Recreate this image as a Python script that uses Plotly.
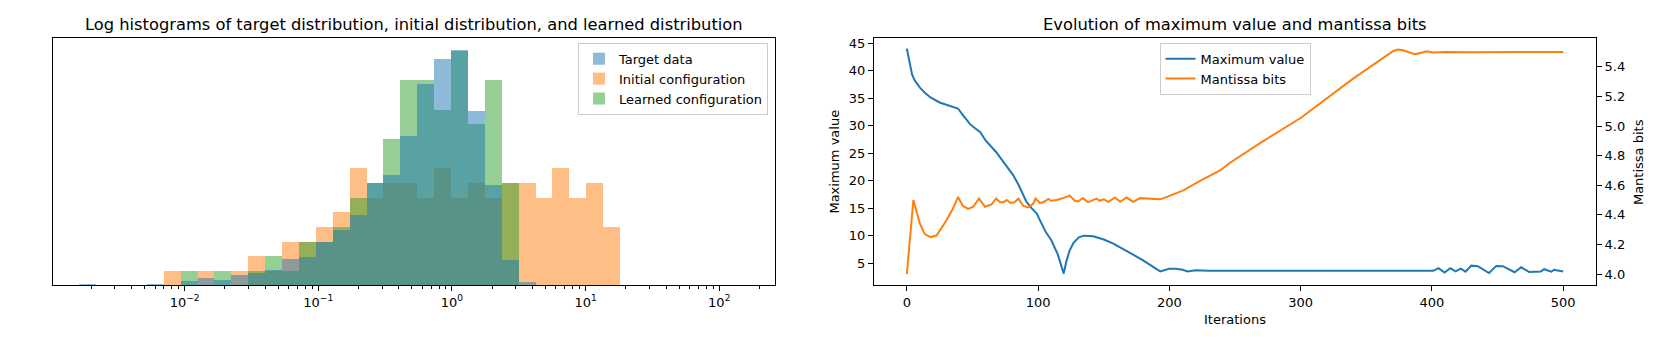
import numpy as np
import plotly.graph_objects as go

# ---------------- Data: left histogram (log10 bins) ----------------
bin_start_log10 = -2.789
bin_stop_log10 = 1.258
n_bins = 32
target_data = [0.1, 0, 0, 0, 0.1, 0, 0.32, 0.52, 0.41, 0.75, 0.88, 1.06, 1.81, 1.97, 3.0, 3.8,
               4.79, 6.98, 7.57, 10.17, 13.74, 15.48, 16.05, 11.91, 6.85, 1.74, 0.22, 0, 0, 0, 0, 0]
initial_config = [0, 0, 0, 0, 0, 1, 0, 1, 0, 1, 2, 1, 3, 3, 4, 5,
                  8, 6, 7, 7, 6, 8, 6, 7, 6, 7, 7, 6, 8, 6, 7, 4]
learned_config = [0, 0, 0, 0, 0, 0, 1, 0, 1, 0, 1, 2, 1, 3, 3, 4,
                  6, 7, 10, 14, 14, 12, 16, 11, 14, 7, 0, 0, 0, 0, 0, 0]
hist_tick_exps = [-2, -1, 0, 1, 2]

# ---------------- Data: right chart ----------------
iter_max = [0, 2, 4, 6, 10, 14, 18, 25, 32, 39, 43, 48, 52, 56, 60, 64, 68, 73, 77, 81, 85, 88,
            91, 95, 99, 102, 106, 110, 115, 119.5, 121.5, 124, 127, 131, 135, 142, 150, 157,
            165, 172, 180, 187, 193, 196, 200, 205, 210, 214, 220, 230, 260, 300, 370, 380,
            395, 401, 405, 409.6, 414, 418, 422, 425.6, 430, 435, 443.5, 449, 454, 463, 468,
            474, 483, 485.5, 491, 493, 500]
max_value = [44.0, 41.5, 39.3, 38.2, 36.9, 35.9, 35.1, 34.2, 33.6, 33.1, 31.8, 30.3, 29.5, 28.8,
             27.3, 26.2, 25.2, 23.6, 22.4, 21.0, 19.3, 17.8, 16.2, 15.0, 14.0, 12.5, 10.6, 9.2,
             6.6, 3.1, 5.3, 7.3, 8.7, 9.7, 10.0, 9.9, 9.3, 8.6, 7.6, 6.6, 5.5, 4.5, 3.5, 3.7,
             4.0, 4.0, 3.8, 3.5, 3.7, 3.6, 3.6, 3.6, 3.6, 3.55, 3.6, 3.6, 4.1, 3.3, 4.1, 3.5,
             4.0, 3.45, 4.55, 4.45, 3.2, 4.5, 4.45, 3.35, 4.25, 3.4, 3.5, 3.9, 3.45, 3.8, 3.5]
iter_mant = [0, 5, 7.5, 10, 13.7, 18, 22.6, 30, 35, 39, 42.7, 46.8, 50.6, 55, 59.5, 64.5, 68, 71,
             73.5, 76, 79, 82, 85, 88.7, 92.5, 96.3, 98, 101.4, 104, 107.8, 110, 114, 119, 124,
             128, 130.6, 134, 138, 144.6, 147, 150, 153.6, 158.5, 162.5, 167.4, 172.5, 177.7,
             188, 193, 200.6, 211, 223.4, 238.6, 246, 270, 300, 340, 370.6, 374.4, 378, 383,
             387, 392, 396, 401, 410, 430, 450, 470, 500]
mantissa_bits = [4.0, 4.50, 4.42, 4.34, 4.27, 4.25, 4.26, 4.36, 4.44, 4.52, 4.46, 4.44, 4.455,
                 4.51, 4.455, 4.47, 4.51, 4.485, 4.485, 4.50, 4.48, 4.485, 4.51, 4.46, 4.45,
                 4.475, 4.51, 4.48, 4.485, 4.507, 4.495, 4.5, 4.513, 4.53, 4.495, 4.49, 4.513,
                 4.486, 4.51, 4.495, 4.505, 4.488, 4.517, 4.488, 4.517, 4.488, 4.513, 4.508,
                 4.505, 4.53, 4.567, 4.63, 4.70, 4.75, 4.89, 5.054, 5.32, 5.507, 5.516, 5.512,
                 5.495, 5.485, 5.495, 5.505, 5.497, 5.5, 5.498, 5.497, 5.5, 5.5]
iter_ticks = [0, 100, 200, 300, 400, 500]
max_ticks = [5, 10, 15, 20, 25, 30, 35, 40, 45]
mant_ticks = [4.0, 4.2, 4.4, 4.6, 4.8, 5.0, 5.2, 5.4]

# ---------------- Figure ----------------
W, H = 1661, 342
FONT = "DejaVu Sans"
BLUE, ORANGE, GREEN = "#1f77b4", "#ff7f0e", "#2ca02c"

def px_x(p):
    return p / W

def px_y(p):
    return 1 - p / H

edges = np.linspace(bin_start_log10, bin_stop_log10, n_bins + 1)
centers = (edges[:-1] + edges[1:]) / 2
bw = edges[1] - edges[0]

fig = go.Figure()
# drawing order: orange (bottom), green, blue (top); legend order kept via legendrank
for name, vals, col, rank in [("Initial configuration", initial_config, ORANGE, 2),
                              ("Learned configuration", learned_config, GREEN, 3),
                              ("Target data", target_data, BLUE, 1)]:
    fig.add_trace(go.Bar(x=centers, y=vals, width=bw, name=name, marker_color=col,
                         marker_line_width=0, opacity=0.5, xaxis="x", yaxis="y",
                         legend="legend", legendrank=rank))

fig.add_trace(go.Scatter(x=iter_max, y=max_value, mode="lines", name="Maximum value",
                         line=dict(color=BLUE, width=2), xaxis="x2", yaxis="y2",
                         legend="legend2", legendrank=1))
fig.add_trace(go.Scatter(x=iter_mant, y=mantissa_bits, mode="lines", name="Mantissa bits",
                         line=dict(color=ORANGE, width=2), xaxis="x2", yaxis="y3",
                         legend="legend2", legendrank=2))

minor_vals = [n + np.log10(k) for n in range(-3, 3) for k in range(2, 10)]
minor_vals = [v for v in minor_vals if -2.985 < v < 2.417]

ydom = [px_y(285), px_y(36)]
axis_common = dict(showgrid=False, zeroline=False, showline=True, linecolor="black",
                   linewidth=1, ticks="outside", ticklen=5, tickwidth=1,
                   tickcolor="black", tickfont=dict(family=FONT, size=13, color="black"))

fig.update_layout(
    width=W, height=H, margin=dict(l=0, r=0, t=0, b=0),
    paper_bgcolor="white", plot_bgcolor="white",
    barmode="overlay", bargap=0,
    font=dict(family=FONT, size=13, color="black"),
    xaxis=dict(domain=[px_x(53), px_x(775)], anchor="y", range=[-2.985, 2.417],
               tickvals=hist_tick_exps,
               ticktext=["10<sup>\u2212%d</sup>" % -e if e < 0 else "10<sup>%d</sup>" % e
                         for e in hist_tick_exps],
               minor=dict(tickvals=minor_vals, ticks="outside", ticklen=3, tickcolor="black"),
               mirror=True, **axis_common),
    yaxis=dict(domain=ydom, anchor="x", range=[0, 16.88], showticklabels=False,
               showgrid=False, zeroline=False, showline=True, linecolor="black",
               linewidth=1, mirror=True, ticks=""),
    xaxis2=dict(domain=[px_x(874), px_x(1596)], anchor="y2", range=[-25, 525],
                tickvals=iter_ticks, mirror=True, **axis_common),
    yaxis2=dict(domain=ydom, anchor="x2", range=[0.97, 45.95], tickvals=max_ticks,
                **axis_common),
    yaxis3=dict(domain=ydom, anchor="x2", overlaying="y2", side="right",
                range=[3.924, 5.596], tickvals=mant_ticks,
                ticktext=["%.1f" % v for v in mant_ticks], **axis_common),
    legend=dict(x=px_x(768), y=px_y(41), xanchor="right", yanchor="top",
                bgcolor="rgba(255,255,255,0.8)", bordercolor="#cccccc", borderwidth=1,
                font=dict(family=FONT, size=13, color="black"), tracegroupgap=0),
    legend2=dict(x=px_x(1235), y=px_y(41), xanchor="center", yanchor="top",
                 bgcolor="rgba(255,255,255,0.8)", bordercolor="#cccccc", borderwidth=1,
                 font=dict(family=FONT, size=13, color="black"), tracegroupgap=0),
    showlegend=True,
)

annots = [
    dict(text="Log histograms of target distribution, initial distribution, and learned distribution",
         x=px_x(414), y=px_y(23), font=dict(size=16.3)),
    dict(text="Evolution of maximum value and mantissa bits",
         x=px_x(1235), y=px_y(23), font=dict(size=16.3)),
    dict(text="Iterations", x=px_x(1235), y=px_y(319), font=dict(size=13)),
    dict(text="Maximum value", x=px_x(835), y=px_y(160.5), font=dict(size=13), textangle=-90),
    dict(text="Mantissa bits", x=px_x(1638), y=px_y(161), font=dict(size=13), textangle=-90),
]
for a in annots:
    fig.add_annotation(xref="paper", yref="paper", showarrow=False, xanchor="center",
                       yanchor="middle", **a)

fig.write_html("out.html", config={"displayModeBar": False},
               post_script="document.body.style.margin='0';document.body.style.padding='0';")
